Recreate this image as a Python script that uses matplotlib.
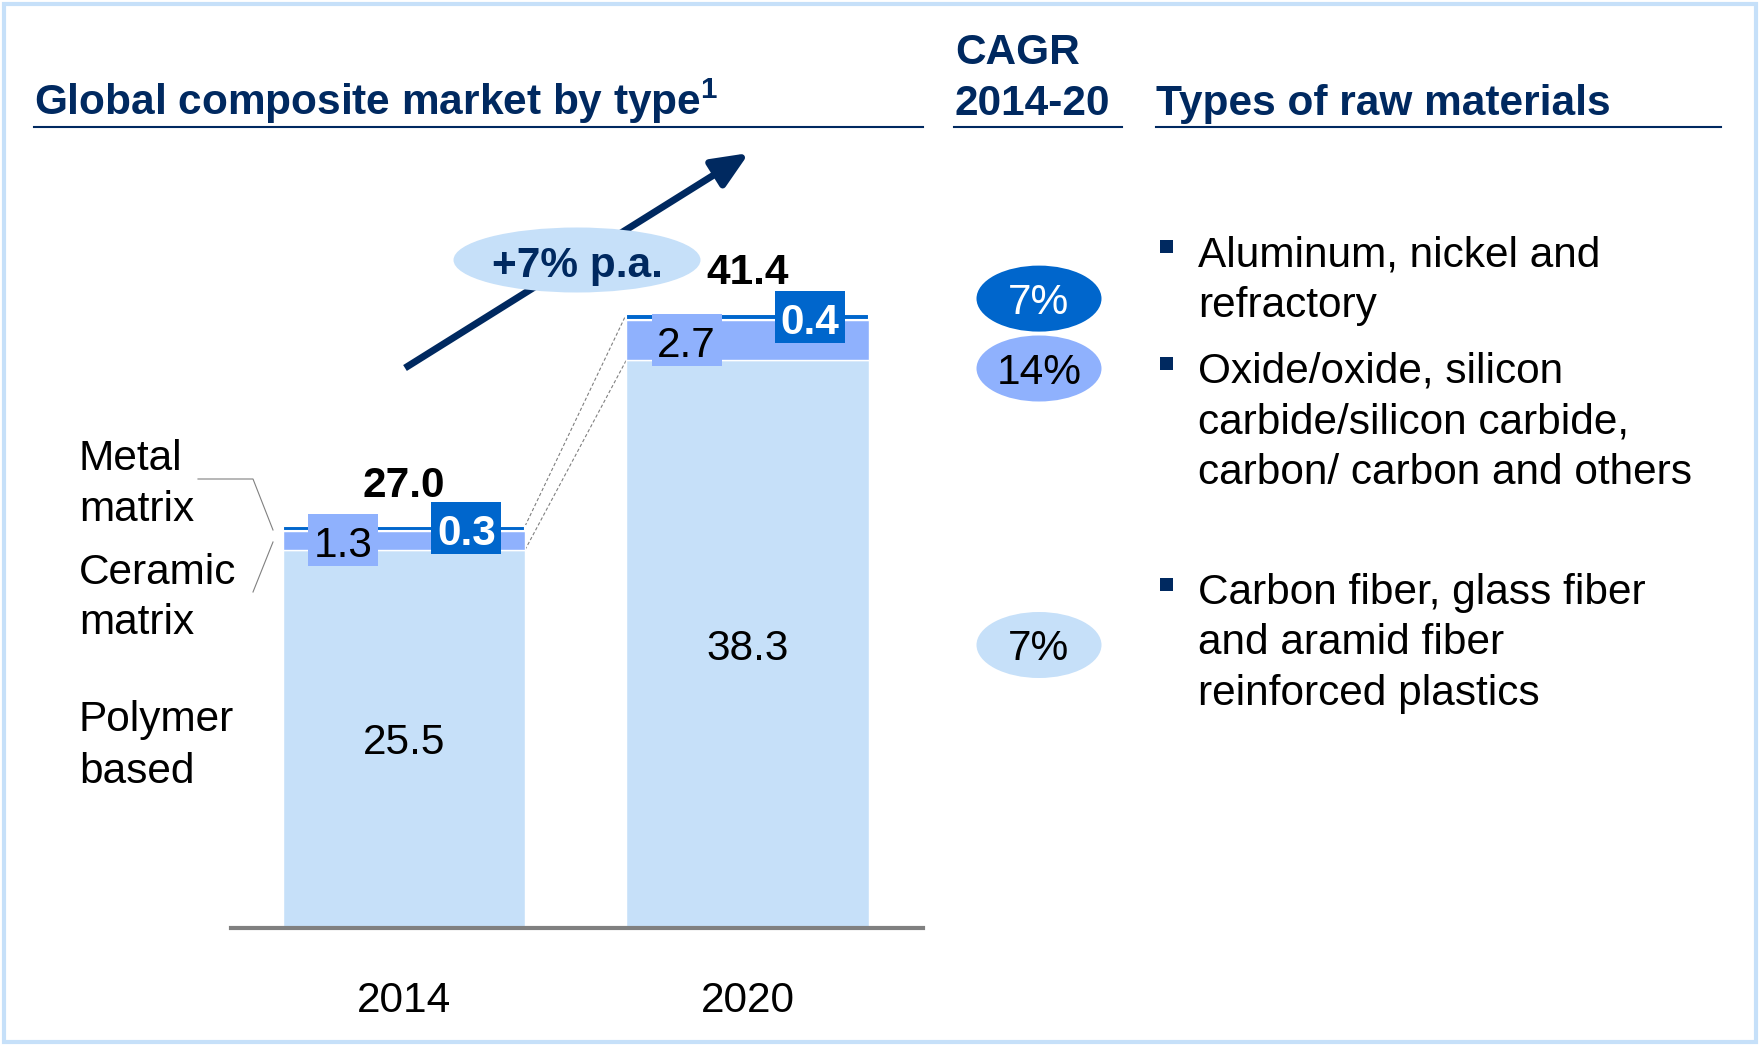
import matplotlib
matplotlib.use("Agg")
import matplotlib.pyplot as plt
from matplotlib.patches import Ellipse, Rectangle, FancyArrowPatch

plt.rcParams['font.family'] = ['Liberation Sans', 'DejaVu Sans']
plt.rcParams['mathtext.fontset'] = 'custom'
plt.rcParams['mathtext.rm'] = 'Liberation Sans'
plt.rcParams['mathtext.bf'] = 'Liberation Sans:bold'

# ---------------- data ----------------
years = ['2014', '2020']
polymer = [25.5, 38.3]
ceramic = [1.3, 2.7]
metal = [0.3, 0.4]
totals = [27.0, 41.4]
segment_names = ['Metal\nmatrix', 'Ceramic\nmatrix', 'Polymer\nbased']
cagr_labels = ['7%', '14%', '7%']          # metal, ceramic, polymer
growth_label = '+7% p.a.'
title_left = 'Global composite market by type'
title_mid = ['CAGR', '2014-20']
title_right = 'Types of raw materials'
raw_materials = [
    ['Aluminum, nickel and', 'refractory'],
    ['Oxide/oxide, silicon', 'carbide/silicon carbide,', 'carbon/ carbon and others'],
    ['Carbon fiber, glass fiber', 'and aramid fiber', 'reinforced plastics'],
]

# ---------------- style ----------------
LIGHT = '#C6E0F9'
MED = '#8FB1FD'
DARK = '#0066CC'
NAVY = '#002960'
GRAY = '#808080'
FS = 30.5

W, H = 1760, 1046
fig = plt.figure(figsize=(W / 100, H / 100), dpi=100)
fig.patch.set_facecolor('white')

# bar axes (pixel geometry of the reference)
PX_PER_UNIT = 14.83
PX_PER_X = 343.5
base_px, top_px = 928, 140
left_px, right_px = 231, 923
ax = fig.add_axes([left_px / W, (H - base_px) / H, (right_px - left_px) / W, (base_px - top_px) / H])
ax.set_xlim(-0.5036, 1.511)
ax.set_ylim(0, (base_px - top_px) / PX_PER_UNIT)
ax.set_facecolor('none')
for s in ['left', 'right', 'top']:
    ax.spines[s].set_visible(False)
ax.spines['bottom'].set_color(GRAY)
ax.spines['bottom'].set_linewidth(3)
ax.set_xticks([])
ax.set_yticks([])

x = [0, 1]
bw = 0.705
ax.bar(x, polymer, width=bw, color=LIGHT, edgecolor='white', linewidth=1.0, zorder=2)
bottom2 = [p for p in polymer]
ax.bar(x, ceramic, bottom=bottom2, width=bw, color=MED, edgecolor='white', linewidth=1.0, zorder=2)
bottom3 = [p + c for p, c in zip(polymer, ceramic)]
ax.bar(x, metal, bottom=bottom3, width=bw, color=DARK, edgecolor='white', linewidth=1.5, zorder=2)
tops = [b + m for b, m in zip(bottom3, metal)]

box_w = 70 / PX_PER_X
box_h = 52 / PX_PER_UNIT
for i in x:
    ax.text(i, polymer[i] / 2, f'{polymer[i]:.1f}', ha='center', va='center_baseline',
            fontsize=FS, color='black', zorder=4)
    # ceramic label box
    cx, cy = i - 0.177, polymer[i] + ceramic[i] / 2
    ax.add_patch(Rectangle((cx - box_w / 2, cy - box_h / 2), box_w, box_h, fc=MED, ec='none', zorder=3))
    ax.text(cx, cy - 1.5 / PX_PER_UNIT, f'{ceramic[i]:.1f}', ha='center', va='center_baseline',
            fontsize=FS, color='black', zorder=4)
    # metal label box
    mx, my = i + 0.182, bottom3[i] + metal[i] / 2
    ax.add_patch(Rectangle((mx - box_w / 2, my - box_h / 2), box_w, box_h, fc=DARK, ec='none', zorder=3))
    ax.text(mx, my - 1.5 / PX_PER_UNIT, f'{metal[i]:.1f}', ha='center', va='center_baseline',
            fontsize=FS, color='white', fontweight='bold', zorder=4)
    ax.annotate(f'{totals[i]:.1f}', xy=(i, totals[i]), xytext=(0, 46 * 0.72), textcoords='offset points',
                ha='center', va='center_baseline', fontsize=FS, fontweight='bold', color='black')
    ax.annotate(years[i], xy=(i, 0), xytext=(0, -(1012 - base_px) * 0.72), textcoords='offset points',
                ha='center', va='baseline', fontsize=FS, color='black', annotation_clip=False)

# dashed connectors between bars
ax.plot([bw / 2, 1 - bw / 2], [tops[0], tops[1]], ls=(0, (3, 2)), color=GRAY, lw=0.8, zorder=1)
ax.plot([bw / 2, 1 - bw / 2], [polymer[0], polymer[1]], ls=(0, (3, 2)), color=GRAY, lw=0.8, zorder=1)

# ---------------- overlay in pixel coordinates ----------------
ov = fig.add_axes([0, 0, 1, 1], zorder=5)
ov.set_xlim(0, W)
ov.set_ylim(H, 0)
ov.axis('off')

# frame
ov.add_patch(Rectangle((4, 4), W - 8, H - 8, fill=False, ec=LIGHT, lw=3))

# headers
ov.text(34, 115, title_left + r'$^{\mathbf{1}}$', fontsize=FS, fontweight='bold', color=NAVY, va='baseline', ha='left')
ov.plot([34, 923], [127, 127], color=NAVY, lw=1.5)
ov.text(955, 64, title_mid[0], fontsize=FS, fontweight='bold', color=NAVY, va='baseline', ha='left')
ov.text(955, 115, title_mid[1], fontsize=FS, fontweight='bold', color=NAVY, va='baseline', ha='left')
ov.plot([954, 1122], [127, 127], color=NAVY, lw=1.5)
ov.text(1156, 115, title_right, fontsize=FS, fontweight='bold', color=NAVY, va='baseline', ha='left')
ov.plot([1156, 1721], [127, 127], color=NAVY, lw=1.5)

# growth arrow
arr = FancyArrowPatch((405, 368), (749, 153), arrowstyle='-|>,head_length=22,head_width=9.5',
                      mutation_scale=1, color=NAVY, lw=5, shrinkA=0, shrinkB=0, capstyle='butt')
ov.add_patch(arr)
ov.add_patch(Ellipse((577, 260), 247, 65, fc=LIGHT, ec='none', zorder=3))
ov.text(577, 261, growth_label, fontsize=FS, fontweight='bold', color=NAVY, ha='center',
        va='center_baseline', zorder=4)

# segment names with leader lines
name_baselines = [(470, 521), (584, 634), (731, 783)]
for name, (b1, b2) in zip(segment_names, name_baselines):
    l1, l2 = name.split('\n')
    ov.text(79, b1, l1, fontsize=FS, color='black', va='baseline', ha='left')
    ov.text(79, b2, l2, fontsize=FS, color='black', va='baseline', ha='left')
ov.plot([198, 253, 273], [479, 479, 530], color=GRAY, lw=0.8)
ov.plot([273, 253], [542, 592], color=GRAY, lw=0.8)

# CAGR ellipses
cagr_y = [298.6, 368.5, 645]
cagr_fc = [DARK, MED, LIGHT]
cagr_tc = ['white', 'black', 'black']
for lab, cy, fc, tc in zip(cagr_labels, cagr_y, cagr_fc, cagr_tc):
    ov.add_patch(Ellipse((1039, cy), 125, 66, fc=fc, ec='none'))
    ov.text(1039, cy, lab, fontsize=FS, color=tc, ha='center', va='center_baseline')

# raw material bullets
block_baselines = [266, 383, 604]
for lines, b0 in zip(raw_materials, block_baselines):
    ov.add_patch(Rectangle((1160, b0 - 20 - 6.5), 13, 13, fc=NAVY, ec='none'))
    for k, line in enumerate(lines):
        ov.text(1198, b0 + k * 50.5, line, fontsize=FS, color='black', va='baseline', ha='left')

fig.savefig('out.png', dpi=100)
